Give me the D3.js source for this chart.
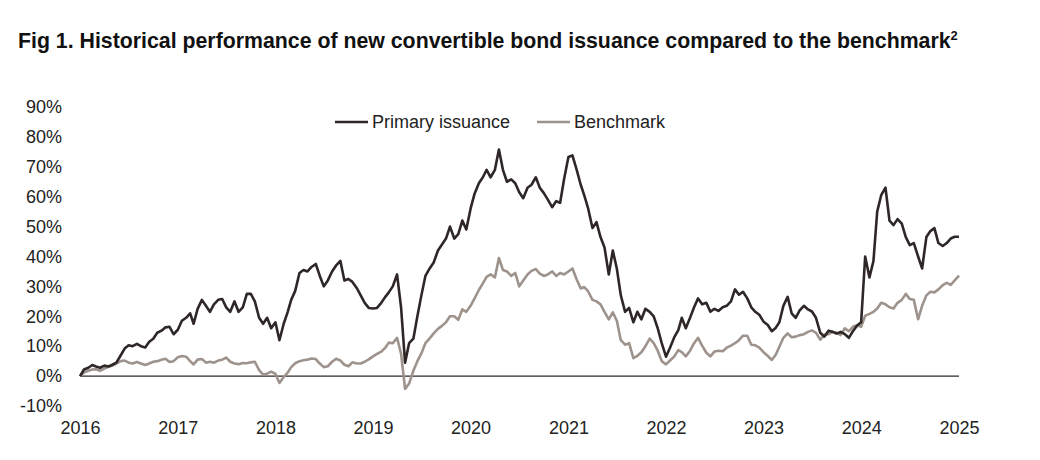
<!DOCTYPE html>
<html>
<head>
<meta charset="utf-8">
<script src="https://cdn.jsdelivr.net/npm/d3@7"></script>
<style>
  body { margin: 0; background: #fff; }
  svg { display: block; font-family: "Liberation Sans", Arial, sans-serif; }
</style>
</head>
<body>
<div class="js-vis"></div>
<script>
"use strict";

// Semi-monthly readings, Jan 2016 -> Jan 2025 (cumulative return, %)
var primary = [
  0, 2.2, 2.8, 3.7, 3.2, 2.8, 3.5, 3.2, 3.8, 4.5, 6.9, 9.2, 10.3, 10.0, 10.8, 10.0, 9.6, 11.5, 12.5, 14.5, 15.2, 16.3, 16.5, 14.0,
  15.5, 18.5, 19.5, 21, 17.5, 22.5, 25.5, 23.5, 21.5, 24, 25.5, 25.8, 23, 21.5, 25, 21.5, 23, 27.5, 27.5, 25, 19.5, 17.5, 19.5, 16,
  18, 12, 17.5, 21.5, 25.5, 28.5, 34.5, 35.5, 35, 36.5, 37.5, 33.5, 30, 32, 35, 37, 38.5, 32, 32.5, 31.5, 29.5, 27, 24.5, 22.8,
  22.6, 22.8, 24.5, 26.5, 28, 30, 34, 23, 4.5, 11, 12.5, 20, 27, 33.5, 36, 38, 42, 44, 46, 50, 46, 47.5, 52, 49,
  56, 61, 64.5, 66.5, 69, 66.5, 69, 75.8, 69, 65, 65.8, 64.5, 61.5, 59.5, 63, 64, 66.5, 63, 61.2, 59, 56.5, 58.5, 58, 66,
  73.3, 73.8, 69, 64, 60.5, 56, 49.5, 51.5, 46.5, 43, 34, 42, 36, 27, 21.5, 22.8, 18, 21.5, 19, 22.5, 21.5, 20, 16, 11,
  6.5, 9.5, 13, 15.4, 19.5, 16, 19.5, 23, 26, 24, 24.5, 21.5, 22.5, 21.8, 23, 23.5, 25, 29, 27.2, 28.2, 26, 23, 21.5, 20.5,
  18.2, 17.2, 15, 16.2, 18, 23.5, 26.5, 21, 19.5, 22, 23.5, 22.3, 21.6, 19.5, 14.5, 13.2, 15.2, 14.8, 14.2, 14.8, 14, 12.8, 15, 16.8,
  18, 40, 33, 38.5, 55, 60.5, 63, 52, 50.5, 52.5, 51, 46.5, 43.8, 44.5, 40, 36, 46.5, 48.5, 49.5, 44.5, 43.5, 44.5, 46, 46.6,
  46.6
];

var benchmark = [
  0, 1.2, 1.8, 2.2, 2.3, 1.8, 2.5, 3.1, 3.5, 4.2, 5, 5.2, 4.5, 4.2, 4.7, 4.2, 3.7, 4.2, 4.8, 5, 5.5, 5.8, 4.7, 5,
  6.3, 6.7, 6.5, 5, 3.9, 5.5, 5.7, 4.5, 4.8, 4.5, 5.2, 5.5, 6.2, 4.8, 4.2, 4.0, 4.4, 4.3, 4.6, 4.8, 2, 0.5, 0.8, 1.5,
  0.8, -2.3, -0.3, 1.2, 3, 4.3, 5, 5.3, 5.5, 5.9, 5.7, 4.2, 3, 3.3, 4.8, 5.8, 5.2, 3.8, 3.3, 4.6, 4.2, 4.2, 4.8, 5.6,
  6.6, 7.4, 8.2, 9.5, 11.2, 11, 12.8, 7.5, -4.3, -2.5, 1.8, 5, 7.6, 11, 12.6, 14.3, 15.8, 16.8, 18, 20, 20, 18.8, 22.3, 21.5,
  23.5, 26, 28.8, 31, 33.2, 34, 33, 39.5, 35.5, 35, 33.5, 34.5, 30, 32, 34, 35.2, 35.8, 34.3, 33.5, 34, 35, 33.5, 34.5, 34,
  35, 36, 32.3, 29.3, 29.8, 28.3, 25.5, 25, 24, 21.5, 19, 21.3, 18.5, 12, 10.5, 11, 6, 6.8, 8, 10, 12.5, 11, 8.5, 5,
  3.9, 5.2, 6.6, 8.7, 8, 6.6, 8.5, 11, 12.8, 10.2, 7.8, 6.6, 8.2, 8.5, 8.3, 9.5, 10.2, 11, 12, 13.5, 13.5, 10.5, 10.3, 9.5,
  8, 6.8, 5.4, 7.2, 9.8, 12.8, 14.3, 13, 13.2, 13.7, 14, 14.8, 15.3, 14.5, 12.2, 13.8, 14, 14.8, 14.5, 13.7, 16, 15, 16.5, 17,
  16.5, 20.2, 20.8, 21.5, 22.6, 24.5, 24, 23, 22.6, 24.5, 25.5, 27.5, 25.8, 25.5, 19, 23.5, 27, 28.2, 28, 29, 30.4, 31.2, 30.5, 32,
  33.6
];

var seriesNames = ["Primary issuance", "Benchmark"];
var seriesColors = ["#2f2727", "#9d938c"];
var yTicks = [-10, 0, 10, 20, 30, 40, 50, 60, 70, 80, 90];
var title = "Fig 1. Historical performance of new convertible bond issuance compared to the benchmark";

// semi-monthly observation dates (1st and 16th)
var dates = primary.map(function (d, i) {
  return new Date(2016, Math.floor(i / 2), i % 2 ? 16 : 1);
});

var width = 1040, height = 460;

var svg = d3.select(".js-vis").append("svg")
  .attr("width", width).attr("height", height);

var x = d3.scaleTime()
  .domain([new Date(2016, 0, 1), new Date(2025, 0, 1)])
  .range([80, 959]);

var y = d3.scaleLinear().domain([-10, 90]).range([406, 107]);

// title
var t = svg.append("text")
  .attr("x", 18).attr("y", 48)
  .attr("font-size", 21.3).attr("font-weight", "bold").attr("fill", "#111")
  .text(title);
t.append("tspan").attr("font-size", 13).attr("dy", -8).text("2");

// axes
var xax = d3.axisBottom(x).ticks(d3.timeYear.every(1))
  .tickFormat(d3.timeFormat("%Y")).tickSize(0).tickPadding(0);
var gx = svg.append("g").attr("transform", "translate(0,421)").call(xax);
gx.select(".domain").remove();
gx.selectAll("text").attr("font-size", 18).attr("fill", "#222").attr("dy", "0.71em")
  .attr("font-family", "Liberation Sans, Arial, sans-serif");

var yax = d3.axisLeft(y).tickValues(yTicks)
  .tickFormat(function (d) { return d + "%"; }).tickSize(0).tickPadding(0);
var gy = svg.append("g").attr("transform", "translate(62,0)").call(yax);
gy.select(".domain").remove();
gy.selectAll("text").attr("font-size", 18).attr("fill", "#222")
  .attr("font-family", "Liberation Sans, Arial, sans-serif");

// zero line
svg.append("line")
  .attr("x1", x.range()[0]).attr("x2", x.range()[1])
  .attr("y1", y(0)).attr("y2", y(0))
  .attr("stroke", "#2f2727").attr("stroke-width", 1.3);

var line = d3.line()
  .x(function (d) { return x(d[0]); })
  .y(function (d) { return y(d[1]); });

[benchmark, primary].forEach(function (vals, k) {
  var idx = k === 0 ? 1 : 0;
  svg.append("path")
    .datum(vals.map(function (v, i) { return [dates[i], v]; }))
    .attr("fill", "none")
    .attr("stroke", seriesColors[idx])
    .attr("stroke-width", 2.6)
    .attr("stroke-linejoin", "round")
    .attr("d", line);
});

// legend
var legendX = [335, 537];
var lg = svg.append("g").selectAll("g").data(seriesNames).enter().append("g")
  .attr("transform", function (d, i) { return "translate(" + legendX[i] + ",122)"; });
lg.append("line").attr("x1", 0).attr("x2", 33)
  .attr("stroke", function (d, i) { return seriesColors[i]; }).attr("stroke-width", 2.6);
lg.append("text").attr("x", 37).attr("dy", "0.35em")
  .attr("font-size", 18).attr("fill", "#222").text(function (d) { return d; });
</script>
</body>
</html>
